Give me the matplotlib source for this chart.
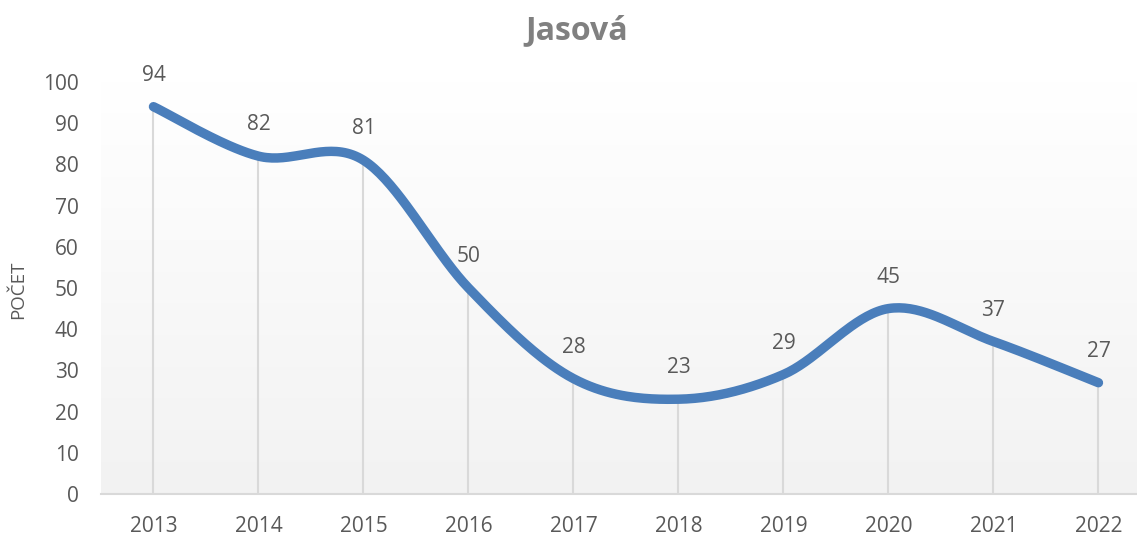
import numpy as np
import matplotlib
matplotlib.use("Agg")
import matplotlib.pyplot as plt
from matplotlib.colors import LinearSegmentedColormap

years = [2013, 2014, 2015, 2016, 2017, 2018, 2019, 2020, 2021, 2022]
counts = [94, 82, 81, 50, 28, 23, 29, 45, 37, 27]

plt.rcParams['font.family'] = ['Open Sans', 'DejaVu Sans']


def smooth(xs, ys, n=40):
    # Excel-style smoothed line: bezier segments with catmull-rom tangents
    pts = np.column_stack([xs, ys]).astype(float)
    out = []
    for i in range(len(pts) - 1):
        p0 = pts[max(i - 1, 0)]
        p1 = pts[i]
        p2 = pts[i + 1]
        p3 = pts[min(i + 2, len(pts) - 1)]
        c1 = p1 + (p2 - p0) / 6
        c2 = p2 - (p3 - p1) / 6
        t = np.linspace(0, 1, n)[:, None]
        seg = ((1 - t) ** 3) * p1 + 3 * ((1 - t) ** 2) * t * c1 + 3 * (1 - t) * t ** 2 * c2 + t ** 3 * p2
        out.append(seg if i == 0 else seg[1:])
    out = np.vstack(out)
    return out[:, 0], out[:, 1]


fig = plt.figure(figsize=(11.37, 5.36), dpi=100)
ax = fig.add_axes([0.0888, 0.0784, 0.9112, 0.7687])

# plot-area gradient, white at top to light gray at bottom
cmap = LinearSegmentedColormap.from_list('bg', ['#f2f2f2', '#ffffff'])
grad = np.linspace(0, 1, 256)[:, None]
ax.imshow(grad, cmap=cmap, aspect='auto', origin='lower',
          extent=[0, 1, 0, 1], transform=ax.transAxes, zorder=0)

ax.vlines(years, 0, counts, color='#d9d9d9', lw=1.5, zorder=1)

sx, sy = smooth(years, counts)
ax.plot(sx, sy, color='#4a7ebb', lw=6.8, solid_capstyle='round', zorder=3)

for x, y in zip(years, counts):
    ax.annotate(str(y), (x, y), xytext=(0, 15), textcoords='offset points',
                ha='center', va='bottom', fontsize=15, color='#595959')

ax.set_xlim(2012.5, 2022.367)
ax.set_ylim(0, 100)
ax.set_xticks(years)
ax.set_yticks(range(0, 101, 10))
ax.tick_params(axis='both', length=0, labelsize=15, labelcolor='#595959')
ax.tick_params(axis='x', pad=16)
ax.tick_params(axis='y', pad=16)
for s in ['top', 'right', 'left']:
    ax.spines[s].set_visible(False)
ax.spines['bottom'].set_color('#d9d9d9')
ax.spines['bottom'].set_linewidth(1.5)

fig.text(0.016, 0.46, 'POČET', rotation=90, ha='center', va='center',
         fontsize=13.5, color='#595959')
fig.text(0.507, 0.942, 'Jasová', ha='center', va='center', fontsize=23,
         fontweight='bold', color='#808080')

fig.savefig('out.png', dpi=100)
